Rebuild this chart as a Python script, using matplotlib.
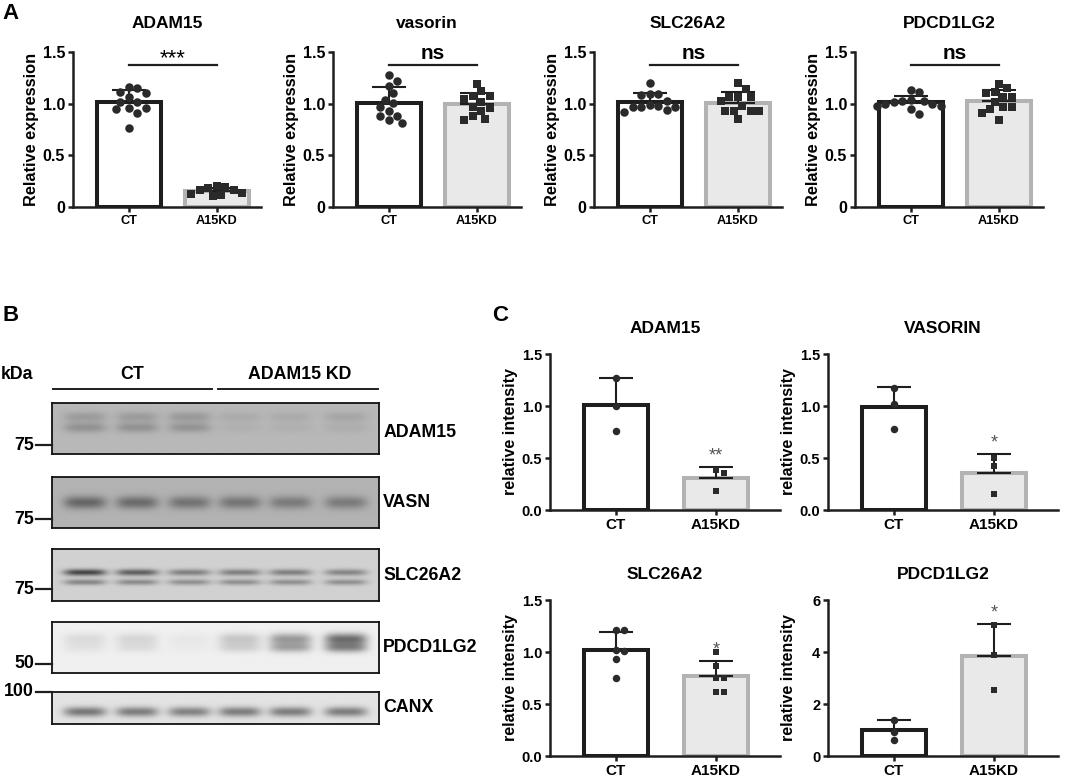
import numpy as np
import matplotlib.pyplot as plt
from matplotlib.lines import Line2D

plt.rcParams['font.family'] = ['Liberation Sans', 'DejaVu Sans']
plt.rcParams['font.weight'] = 'bold'
plt.rcParams['axes.labelweight'] = 'bold'

W, H = 1065, 778
DARK = '#1e1e1e'
GROUPS = ['CT', 'A15KD']

# panel A: qPCR, relative expression (one value per dot)
qpcr_genes = ['ADAM15', 'vasorin', 'SLC26A2', 'PDCD1LG2']
qpcr_ct = [
    [1.11, 1.16, 1.15, 1.10, 1.06, 1.02, 1.02, 0.96, 0.95, 0.96, 0.91, 0.76],
    [1.28, 1.22, 1.17, 1.10, 1.04, 1.01, 0.97, 0.93, 0.88, 0.88, 0.84, 0.81],
    [1.20, 1.09, 1.09, 1.08, 1.03, 0.99, 0.98, 0.97, 0.97, 0.97, 0.92, 0.94],
    [1.13, 1.11, 1.04, 1.03, 1.03, 1.02, 1.00, 0.98, 1.00, 0.98, 0.95, 0.90],
]
qpcr_kd = [
    [0.18, 0.14, 0.13, 0.11, 0.12, 0.20, 0.16, 0.16, 0.19],
    [1.19, 1.12, 1.07, 1.07, 1.05, 1.02, 0.97, 0.96, 0.93, 0.88, 0.84, 0.85],
    [1.20, 1.14, 1.06, 1.03, 0.98, 1.06, 1.06, 0.93, 0.93, 0.93, 0.93, 0.85],
    [1.19, 1.15, 1.10, 1.11, 1.02, 1.06, 1.06, 0.97, 0.97, 0.95, 0.91, 0.84],
]
qpcr_marks = ['***', 'ns', 'ns', 'ns']

# panel C: blot quantification, relative intensity
quant_titles = ['ADAM15', 'VASORIN', 'SLC26A2', 'PDCD1LG2']
quant_ct = [
    [1.27, 1.00, 0.76],
    [1.17, 1.02, 0.78],
    [1.21, 1.21, 1.01, 1.02, 0.93, 0.75],
    [1.39, 0.94, 0.62],
]
quant_kd = [
    [0.38, 0.36, 0.18],
    [0.50, 0.42, 0.15],
    [1.00, 0.87, 0.75, 0.75, 0.62, 0.62],
    [5.05, 3.90, 2.55],
]
quant_marks = ['**', '*', '*', '*']
quant_yticks = [[0, 0.5, 1.0, 1.5]] * 3 + [[0, 2, 4, 6]]
quant_ylabels = [['0.0', '0.5', '1.0', '1.5']] * 3 + [['0', '2', '4', '6']]

# panel B: western blot, band darkness per lane (3 CT lanes, 3 KD lanes)
blot_names = ['ADAM15', 'VASN', 'SLC26A2', 'PDCD1LG2', 'CANX']
blot_kda = ['75', '75', '75', '50', '100']
blot_background = [0.72, 0.70, 0.82, 0.94, 0.89]
blot_bands = [
    # (vertical position, thickness, darkness per lane)
    [(0.27, 0.07, [0.11, 0.11, 0.12, 0.05, 0.05, 0.07]),
     (0.48, 0.07, [0.15, 0.15, 0.14, 0.03, 0.03, 0.04])],
    [(0.50, 0.09, [0.30, 0.28, 0.25, 0.24, 0.22, 0.22])],
    [(0.45, 0.045, [0.55, 0.45, 0.32, 0.32, 0.32, 0.30]),
     (0.64, 0.04, [0.30, 0.28, 0.26, 0.26, 0.26, 0.26])],
    [(0.33, 0.08, [0.08, 0.10, 0.03, 0.16, 0.33, 0.50]),
     (0.50, 0.07, [0.05, 0.07, 0.02, 0.12, 0.28, 0.40])],
    [(0.62, 0.11, [0.42, 0.40, 0.38, 0.40, 0.40, 0.40])],
]
lane_centers = [0.10, 0.26, 0.42, 0.575, 0.73, 0.90]

fig = plt.figure(figsize=(W / 100, H / 100), dpi=100)


def px_axes(left, top, width, height):
    return fig.add_axes([left / W, 1 - (top + height) / H, width / W, height / H])


def swarm_x(ax, xc, values, diam):
    # simple beeswarm: shift dots sideways until they stop overlapping
    disp = ax.transData.transform(np.column_stack([np.full(len(values), xc), values]))
    x0 = disp[0, 0]
    placed = []
    xs = np.zeros(len(values))
    order = np.argsort(values)[::-1]
    steps = [0]
    for k in range(1, 12):
        steps += [k * 0.5 * diam, -k * 0.5 * diam]
    for i in order:
        y = disp[i, 1]
        for dx in steps:
            if all((dx - px) ** 2 + (y - py) ** 2 >= (diam * 0.98) ** 2 for px, py in placed):
                break
        placed.append((dx, y))
        xs[i] = dx
    out = ax.transData.inverted().transform(np.column_stack([x0 + xs, disp[:, 1]]))
    return out[:, 0]


def bar_panel(ax, ct, kd, width, capsize, diam):
    means = [np.mean(ct), np.mean(kd)]
    sds = [np.std(ct, ddof=1), np.std(kd, ddof=1)]
    ax.bar(0, means[0], width=width, color='white', edgecolor=DARK, linewidth=2.9, zorder=2)
    ax.bar(1, means[1], width=width, color='#e9e9e9', edgecolor='#b3b3b3', linewidth=2.9, zorder=2)
    ax.errorbar([0, 1], means, yerr=[[0, 0], sds], fmt='none', ecolor=DARK,
                elinewidth=1.5, capsize=capsize, capthick=1.5, zorder=3)
    ms = (diam * 0.72) ** 2
    ax.scatter(swarm_x(ax, 0, np.array(ct), diam), ct, s=ms, marker='o',
               color='#2a2a2a', linewidths=0, zorder=4)
    ax.scatter(swarm_x(ax, 1, np.array(kd), diam), kd, s=ms * 0.8, marker='s',
               color='#2a2a2a', linewidths=0, zorder=4)
    return np.array(means) + np.array(sds)


def style_axes(ax, ymax):
    for side in ['top', 'right']:
        ax.spines[side].set_visible(False)
    for side in ['left', 'bottom']:
        ax.spines[side].set_linewidth(1.8)
        ax.spines[side].set_color(DARK)
    ax.tick_params(direction='out', length=3.6, width=1.8, color=DARK, pad=2)
    ax.set_ylim(0, ymax)


# ---- panel A ----
for i, gene in enumerate(qpcr_genes):
    ax = px_axes([73, 333, 594, 855][i], 52, 188, 155)
    ax.set_xlim(-0.636, 1.5)
    style_axes(ax, 1.5)
    bar_panel(ax, qpcr_ct[i], qpcr_kd[i], 0.72, 12, 8.5)
    ax.set_yticks([0, 0.5, 1.0, 1.5], ['0', '0.5', '1.0', '1.5'], fontsize=11.5)
    ax.set_xticks([0, 1], GROUPS, fontsize=9.2)
    ax.set_title(gene, fontsize=12.5, fontweight='bold', pad=17)
    ax.set_ylabel('Relative expression', fontsize=11.8)
    ax.yaxis.set_label_coords(-0.18, 0.5)
    ax.plot([0, 1], [1.375, 1.375], color=DARK, lw=1.6, clip_on=False)
    if qpcr_marks[i] == 'ns':
        ax.text(0.5, 1.39, 'ns', ha='center', va='bottom', fontsize=15)
    else:
        ax.text(0.5, 1.33, qpcr_marks[i], ha='center', va='bottom', fontsize=16,
                fontweight='normal')

# ---- panel C ----
quant_pos = [(550, 354), (828, 354), (550, 600), (828, 600)]
for i, title in enumerate(quant_titles):
    left, top = quant_pos[i]
    ymax = quant_yticks[i][-1]
    ax = px_axes(left, top, 230, 156)
    ax.set_xlim(-0.66, 1.64)
    style_axes(ax, ymax)
    tops = bar_panel(ax, quant_ct[i], quant_kd[i], 0.64, 12, 7.5)
    ax.set_yticks(quant_yticks[i], quant_ylabels[i], fontsize=10.5)
    ax.set_xticks([0, 1], GROUPS, fontsize=11)
    ax.set_title(title, fontsize=12.5, fontweight='bold', pad=15)
    ax.set_ylabel('relative intensity', fontsize=11.5)
    ax.yaxis.set_label_coords(-0.14, 0.5)
    ax.text(1, tops[1] + ymax * 0.015, quant_marks[i], ha='center', va='bottom',
            fontsize=13, fontweight='normal', color='#555555')

# ---- panel B ----
blot_rows = [(403, 51), (477, 51), (549, 52), (622, 51), (692, 32)]
ny, nx = 80, 330
yy = np.linspace(0, 1, ny)[:, None]
xx = np.linspace(0, 1, nx)[None, :]
for i, name in enumerate(blot_names):
    top, h = blot_rows[i]
    ax = px_axes(52, top, 327, h)
    img = np.full((ny, nx), blot_background[i])
    for yc, sig, dark in blot_bands[i]:
        for xc, d in zip(lane_centers, dark):
            img -= d * np.exp(-0.5 * ((yy - yc) / sig) ** 2) * np.exp(-((xx - xc) / 0.065) ** 4)
    ax.imshow(img, cmap='gray', vmin=0, vmax=1, aspect='auto',
              extent=[0, 1, 1, 0], interpolation='bilinear')
    ax.set_xticks([])
    ax.set_yticks([])
    for sp in ax.spines.values():
        sp.set_linewidth(1.3)
        sp.set_color('#111111')
    ax.text(1.013, 0.5 if i != 0 else 0.42, name, transform=ax.transAxes,
            ha='left', va='center', fontsize=12.8)
    # molecular weight marker
    my = top + h - 9 if i < 4 else top
    if i == 2:
        my = top + h - 12
    fig.add_artist(Line2D([36 / W, 52 / W], [1 - my / H, 1 - my / H], color=DARK, lw=1.6))
    fig.text(34 / W, 1 - my / H, blot_kda[i], ha='right', va='center', fontsize=12.8)

fig.text(1 / W, 1 - 375 / H, 'kDa', ha='left', va='center', fontsize=12.8)
fig.text(132 / W, 1 - 375 / H, 'CT', ha='center', va='center', fontsize=12.8)
fig.text(300 / W, 1 - 375 / H, 'ADAM15 KD', ha='center', va='center', fontsize=12.8)
fig.add_artist(Line2D([53 / W, 212 / W], [1 - 389 / H] * 2, color=DARK, lw=1.4))
fig.add_artist(Line2D([218 / W, 378 / W], [1 - 389 / H] * 2, color=DARK, lw=1.4))

# panel letters
fig.text(2 / W, 1 - 3 / H, 'A', ha='left', va='top', fontsize=16)
fig.text(3 / W, 1 - 305 / H, 'B', ha='left', va='top', fontsize=16)
fig.text(492 / W, 1 - 305 / H, 'C', ha='left', va='top', fontsize=16)

fig.savefig('out.png', dpi=100)
